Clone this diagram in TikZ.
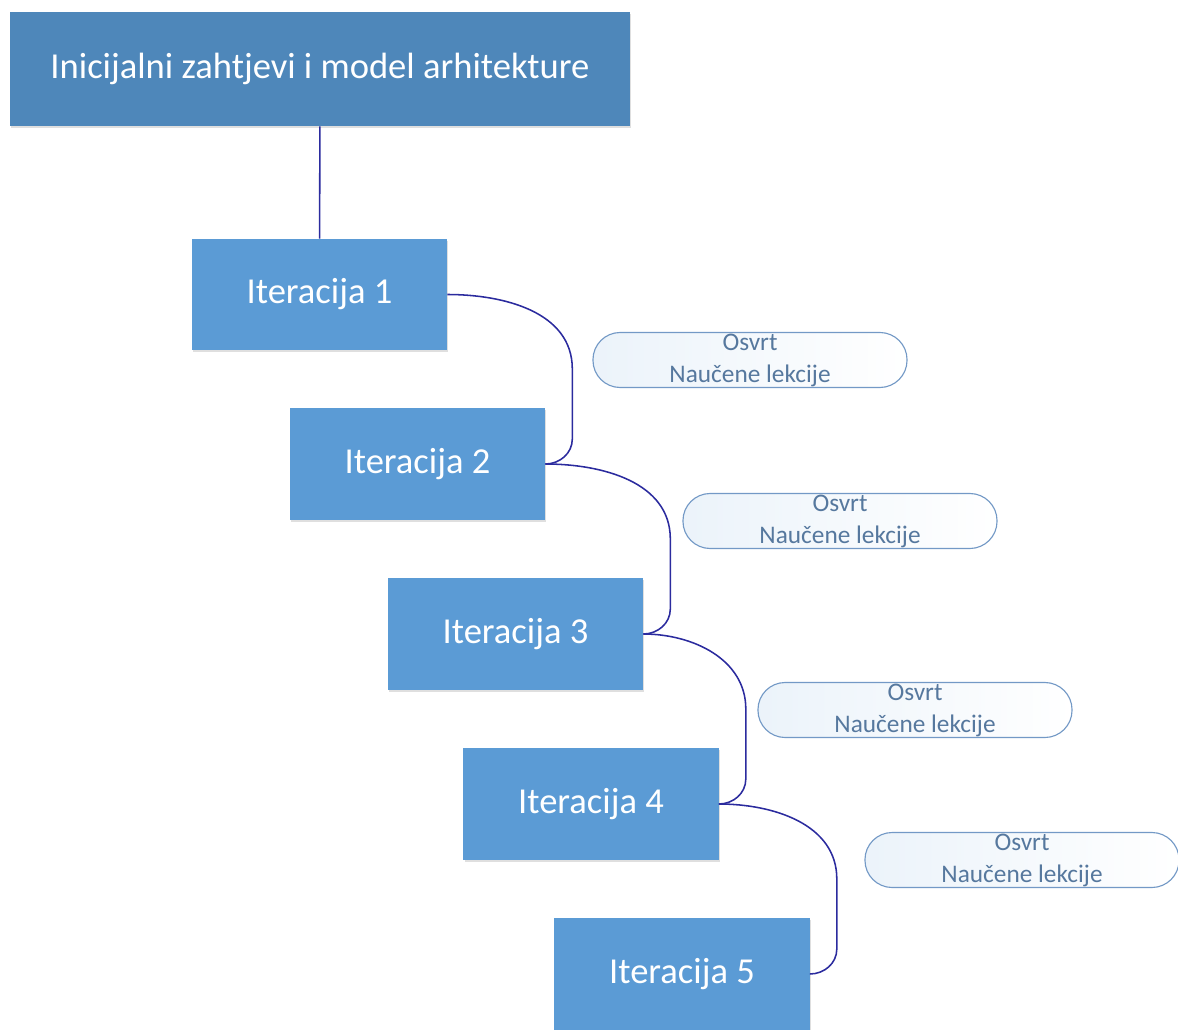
\documentclass[tikz,border=0pt]{standalone}
\usepackage{fontspec}
\setmainfont{Carlito}
\usetikzlibrary{positioning, calc, shadows}

\definecolor{topblue}{HTML}{4E87BA}
\definecolor{iterblue}{HTML}{5B9BD5}
\definecolor{linkblue}{HTML}{2B2B9E}
\definecolor{noteline}{HTML}{7399C6}
\definecolor{notetext}{HTML}{56789E}

\begin{document}
\begin{tikzpicture}[x=0.025cm, y=0.025cm,
        shade/.style={drop shadow={shadow xshift=0.3mm, shadow yshift=-0.5mm, opacity=0.25}},
        topbox/.style={rectangle, fill=topblue, text=white, shade, minimum width=15.5cm, minimum height=2.85cm, font=\fontsize{26}{30}\selectfont},
        iterbox/.style={rectangle, fill=iterblue, text=white, shade, minimum width=6.375cm, minimum height=2.775cm, font=\fontsize{26}{30}\selectfont},
        note/.style={draw=noteline, thick, rounded corners=0.68cm, left color=iterblue!12, right color=white, text=notetext, align=center, minimum width=7.85cm, minimum height=1.375cm, inner sep=0pt, font=\fontsize{18}{22.7}\selectfont},
        link/.style={draw=linkblue, line width=1.1pt}]
        \useasboundingbox (0,0) rectangle (1178,-1030);

        \node[topbox] (top) at (320, -69) {Inicijalni zahtjevi i model arhitekture};
        \node[iterbox] (i1) at (319.5, -294.5) {Iteracija 1};
        \node[iterbox] (i2) at (417.5, -464) {Iteracija 2};
        \node[iterbox] (i3) at (515.5, -634) {Iteracija 3};
        \node[iterbox] (i4) at (591, -804) {Iteracija 4};
        \node[iterbox] (i5) at (682, -974) {Iteracija 5};

        \node[note] (n1) at (750, -360) {Osvrt\\Naučene lekcije};
        \node[note] (n2) at (840, -521) {Osvrt\\Naučene lekcije};
        \node[note] (n3) at (915, -710) {Osvrt\\Naučene lekcije};
        \node[note] (n4) at (1022, -860) {Osvrt\\Naučene lekcije};

        \draw[link] (top) -- (i1);
        \foreach \a/\b in {i1/i2, i2/i3, i3/i4, i4/i5}
            \draw[link] (\a.east) to[out=0, in=90] ($(\b.east)+(27,95)$)
                -- ($(\b.east)+(27,25)$) to[out=-90, in=0] (\b.east);
    \end{tikzpicture}
\end{document}
